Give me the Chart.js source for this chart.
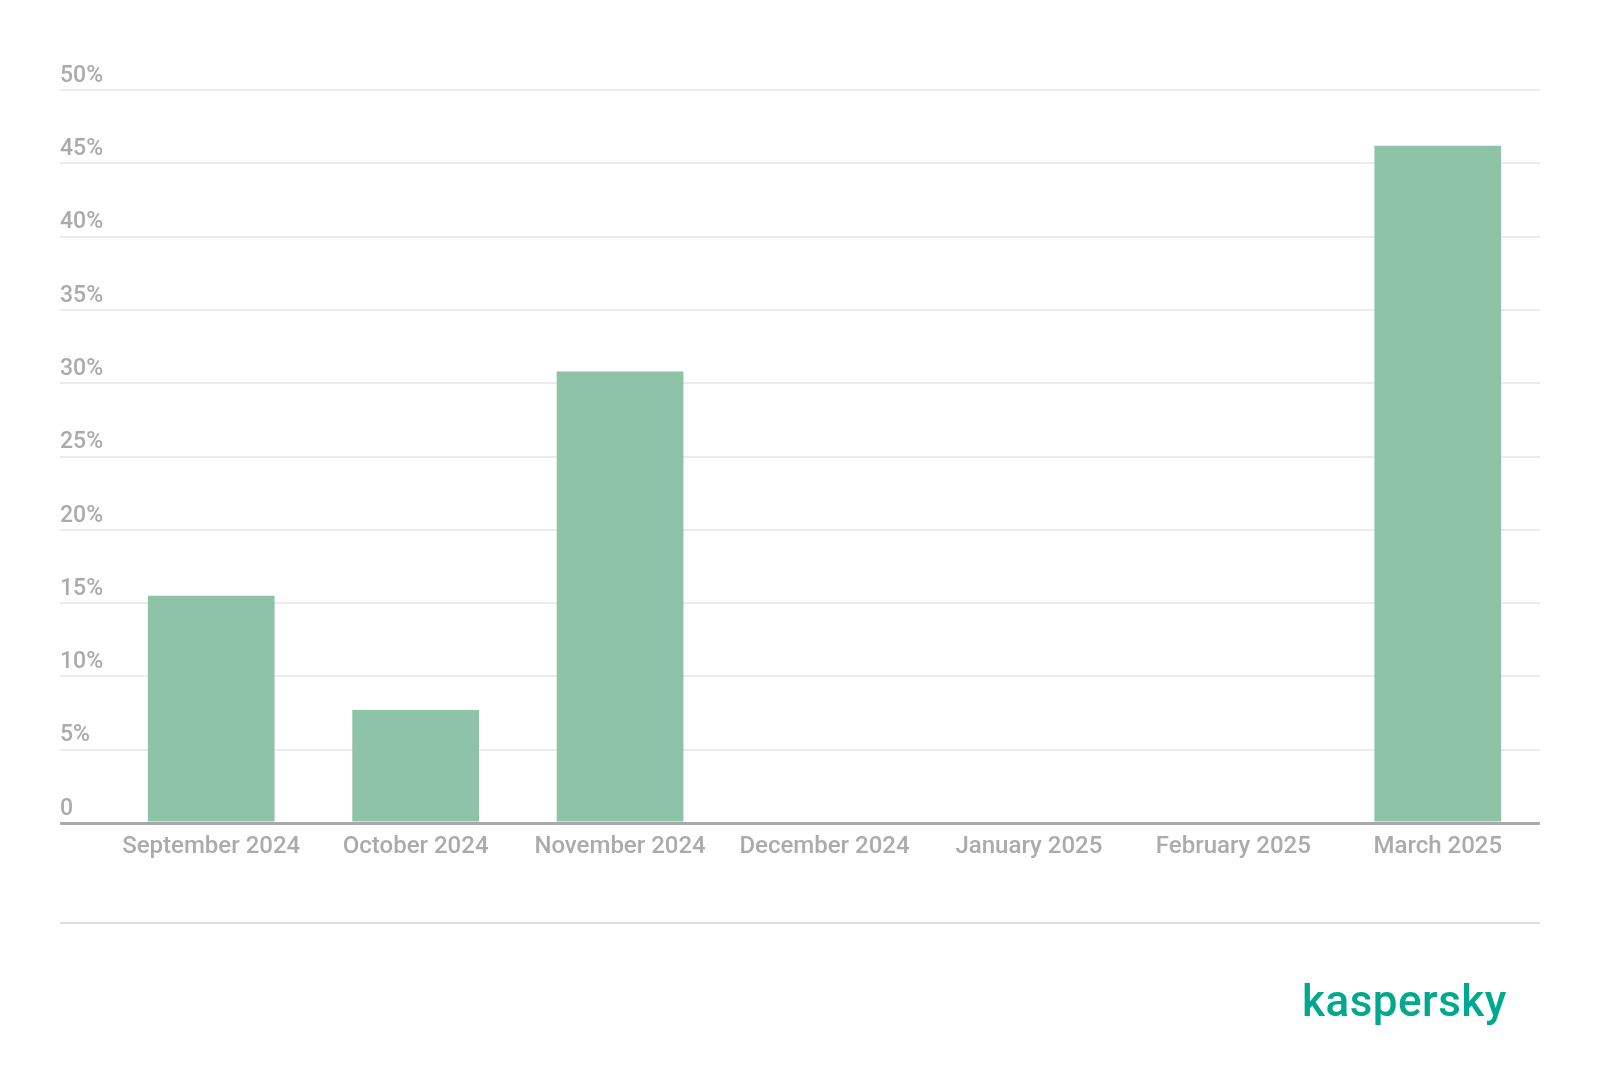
<!DOCTYPE html>
<html>
<head>
<meta charset="utf-8">
<script src="https://cdn.jsdelivr.net/npm/chart.js@4"></script>
<style>
  html, body { margin: 0; padding: 0; background: #fff; }
  #wrap { position: relative; width: 1600px; height: 1086px; }
  #bottomRule { position: absolute; left: 60px; top: 922px; width: 1480px; height: 2px; background: #dedede; }
  #logo { position: absolute; left: 1302px; top: 971px; font-family: Roboto, sans-serif; font-weight: 500;
          font-size: 44px; color: #00a88e; letter-spacing: 0.5px; line-height: 60px; }
</style>
</head>
<body>
<div id="wrap">
  <canvas id="myChart" width="1600" height="1086"></canvas>
  <div id="bottomRule"></div>
  <div id="logo">kaspersky</div>
</div>
<script>
// Chart data
const months = ['September 2024', 'October 2024', 'November 2024', 'December 2024', 'January 2025', 'February 2025', 'March 2025'];
const shares = [15.5, 7.7, 30.8, 0, 0, 0, 46.2];
const yTicks = [0, 5, 10, 15, 20, 25, 30, 35, 40, 45, 50];

const labelGray = '#ababab';

const ctx = document.getElementById('myChart').getContext('2d');
const myChart = new Chart(ctx, {
    type: 'bar',
    data: {
        labels: months,
        datasets: [{
            data: shares,
            backgroundColor: '#8ec3a7',
            borderWidth: 0,
            barPercentage: 0.62,
            categoryPercentage: 1
        }]
    },
    options: {
        responsive: false,
        animation: false,
        layout: { padding: { left: 60, right: 60, top: 90, bottom: 163 } },
        plugins: { legend: { display: false }, tooltip: { enabled: false } },
        scales: {
            x: {
                grid: { display: false, drawTicks: false },
                border: { display: false },
                ticks: {
                    color: labelGray,
                    padding: 10,
                    maxRotation: 0,
                    font: { family: 'Roboto', size: 24, weight: '500' }
                },
                afterFit: (scale) => { scale.height = 100; }
            },
            y: {
                min: 0,
                max: 50,
                afterBuildTicks: (scale) => { scale.ticks = yTicks.map(v => ({ value: v })); },
                border: { display: false },
                grid: {
                    tickLength: 49,
                    color: (c) => c.tick && c.tick.value === 0 ? '#a9a9a9' : '#ececec',
                    lineWidth: (c) => c.tick && c.tick.value === 0 ? 3 : 2
                },
                ticks: {
                    crossAlign: 'far',
                    labelOffset: -14,
                    color: labelGray,
                    font: { family: 'Roboto', size: 23, weight: '500' },
                    callback: (v) => v === 0 ? '0' : v + '%'
                },
                afterFit: (scale) => { scale.width = 49; }
            }
        }
    }
});
</script>
</body>
</html>
